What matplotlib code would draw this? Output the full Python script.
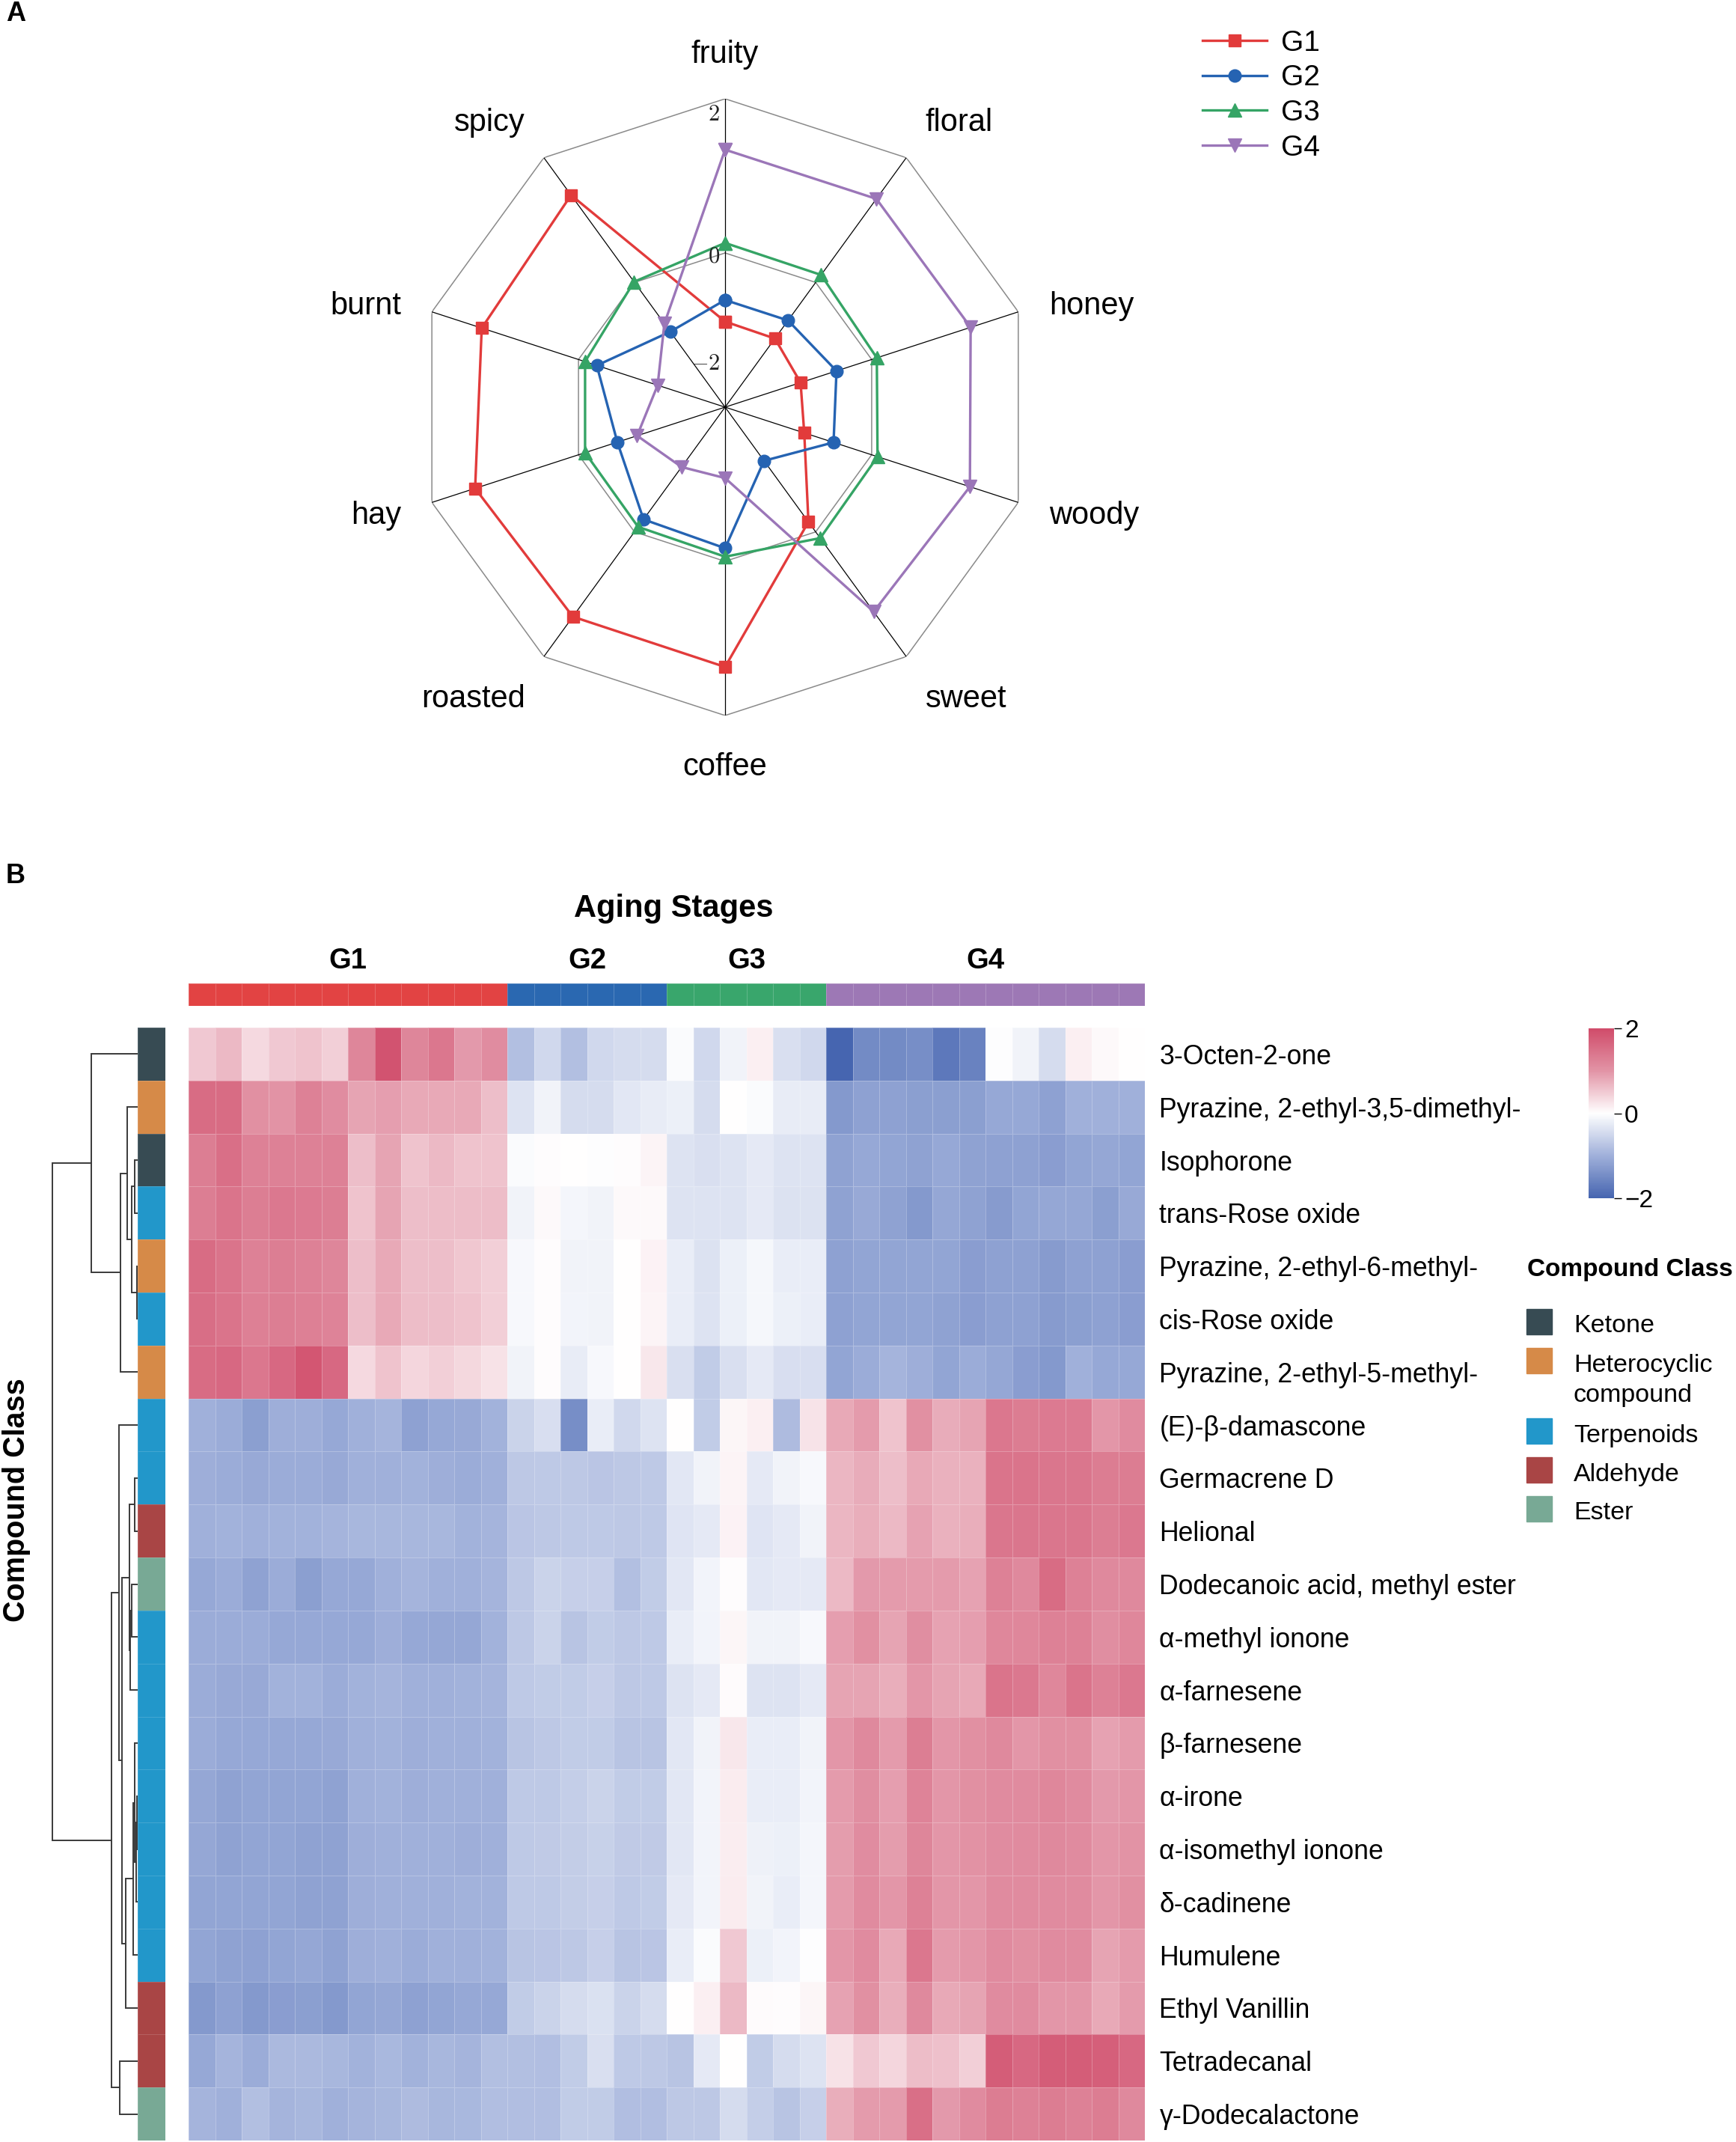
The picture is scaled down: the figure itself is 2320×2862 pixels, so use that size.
import numpy as np
import matplotlib
matplotlib.use("Agg")
import matplotlib.pyplot as plt
import matplotlib.transforms as mtransforms
from matplotlib.colors import LinearSegmentedColormap, ListedColormap
from matplotlib.patches import Rectangle

plt.rcParams["font.family"] = ["Liberation Sans", "DejaVu Sans"]
plt.rcParams["mathtext.fontset"] = "cm"

# ---------------- panel A : aroma radar ----------------
aromas = ["fruity", "floral", "honey", "woody", "sweet",
          "coffee", "roasted", "hay", "burnt", "spicy"]
radar_groups = ["G1", "G2", "G3", "G4"]
g1_scores = [-0.89, -0.90, -0.97, -0.92, -0.16, 1.37, 1.36, 1.41, 1.32, 1.40]
g2_scores = [-0.61, -0.61, -0.48, -0.52, -1.14, -0.17, -0.20, -0.53, -0.25, -0.79]
g3_scores = [0.13, 0.12, 0.07, 0.08, 0.10, -0.06, -0.08, -0.09, -0.09, 0.01]
g4_scores = [1.34, 1.34, 1.35, 1.34, 1.28, -1.08, -1.04, -0.80, -1.08, -0.66]
radar_colors = ["#E23B3B", "#2563B2", "#35A465", "#9B76B8"]
radar_markers = ["s", "o", "^", "v"]
radar_ticks = [2, 0, -2]

# ---------------- panel B : clustered heatmap ----------------
stages = ["G1", "G2", "G3", "G4"]
stage_ncols = [12, 6, 6, 12]
stage_colors = ["#E24343", "#2A68B1", "#39A66C", "#9D78B5"]

compounds = ["3-Octen-2-one", "Pyrazine, 2-ethyl-3,5-dimethyl-", "Isophorone",
             "trans-Rose oxide", "Pyrazine, 2-ethyl-6-methyl-", "cis-Rose oxide",
             "Pyrazine, 2-ethyl-5-methyl-", "(E)-β-damascone", "Germacrene D",
             "Helional", "Dodecanoic acid, methyl ester", "α-methyl ionone",
             "α-farnesene", "β-farnesene", "α-irone", "α-isomethyl ionone",
             "δ-cadinene", "Humulene", "Ethyl Vanillin", "Tetradecanal",
             "γ-Dodecalactone"]
compound_class = ["Ketone", "Heterocyclic", "Ketone", "Terpenoids", "Heterocyclic",
                  "Terpenoids", "Heterocyclic", "Terpenoids", "Terpenoids", "Aldehyde",
                  "Ester", "Terpenoids", "Terpenoids", "Terpenoids", "Terpenoids",
                  "Terpenoids", "Terpenoids", "Terpenoids", "Aldehyde", "Aldehyde",
                  "Ester"]
class_keys = ["Ketone", "Heterocyclic", "Terpenoids", "Aldehyde", "Ester"]
class_labels = ["Ketone", "Heterocyclic\ncompound", "Terpenoids", "Aldehyde", "Ester"]
class_colors = ["#374B53", "#D68A48", "#2297CA", "#A94545", "#78A995"]

heat_g1 = [
    [0.5, 0.65, 0.35, 0.5, 0.55, 0.45, 1.2, 1.9, 1.2, 1.4, 0.95, 1.1],
    [1.55, 1.55, 1.05, 1.0, 1.25, 1.1, 0.85, 0.9, 0.8, 0.8, 0.8, 0.6],
    [1.3, 1.5, 1.25, 1.25, 1.25, 1.25, 0.6, 0.85, 0.55, 0.65, 0.55, 0.55],
    [1.3, 1.45, 1.3, 1.38, 1.35, 1.3, 0.55, 0.85, 0.6, 0.62, 0.62, 0.62],
    [1.55, 1.45, 1.25, 1.3, 1.25, 1.2, 0.6, 0.8, 0.6, 0.6, 0.52, 0.45],
    [1.52, 1.45, 1.27, 1.3, 1.27, 1.22, 0.6, 0.8, 0.62, 0.6, 0.55, 0.45],
    [1.55, 1.6, 1.4, 1.6, 1.85, 1.6, 0.35, 0.55, 0.38, 0.45, 0.37, 0.28],
    [-1.0, -1.05, -1.22, -1.02, -1.02, -1.1, -1.0, -0.95, -1.2, -1.1, -1.08, -0.98],
    [-1.02, -1.05, -1.08, -1.05, -1.05, -1.08, -1.0, -1.0, -0.98, -1.02, -1.05, -1.0],
    [-1.0, -0.98, -1.0, -0.98, -0.98, -0.95, -0.92, -0.92, -0.92, -0.92, -0.98, -0.95],
    [-1.1, -1.05, -1.18, -1.05, -1.22, -1.1, -1.1, -1.0, -0.95, -1.0, -1.0, -0.95],
    [-1.05, -1.05, -1.05, -1.1, -1.1, -1.1, -1.1, -1.02, -1.1, -1.12, -1.12, -0.98],
    [-1.05, -1.08, -1.08, -0.98, -0.98, -1.05, -0.98, -0.95, -1.0, -1.0, -0.98, -0.95],
    [-1.05, -1.1, -1.1, -1.1, -1.1, -1.08, -1.0, -0.98, -1.02, -1.0, -1.0, -0.98],
    [-1.12, -1.18, -1.15, -1.15, -1.15, -1.18, -1.0, -0.98, -1.02, -1.0, -1.0, -1.0],
    [-1.12, -1.18, -1.15, -1.15, -1.18, -1.18, -1.02, -1.0, -1.0, -1.0, -1.02, -1.0],
    [-1.15, -1.15, -1.15, -1.15, -1.18, -1.18, -1.02, -1.0, -1.0, -1.0, -0.98, -0.98],
    [-1.15, -1.18, -1.2, -1.15, -1.12, -1.18, -1.02, -1.0, -1.05, -1.0, -1.0, -0.98],
    [-1.3, -1.2, -1.3, -1.25, -1.22, -1.3, -1.15, -1.12, -1.2, -1.15, -1.1, -1.1],
    [-1.1, -0.95, -1.05, -0.88, -0.88, -0.92, -0.98, -0.9, -0.98, -0.92, -0.94, -0.8],
    [-0.94, -1.0, -0.8, -0.95, -0.92, -1.0, -0.94, -0.92, -0.85, -0.92, -0.9, -0.82],
]
heat_g2 = [
    [-0.8, -0.5, -0.8, -0.5, -0.45, -0.45],
    [-0.35, -0.15, -0.45, -0.45, -0.3, -0.25],
    [-0.05, 0.03, 0.0, -0.03, 0.02, 0.1],
    [-0.15, 0.05, -0.12, -0.15, 0.05, 0.05],
    [-0.08, 0.03, -0.15, -0.15, 0.0, 0.12],
    [-0.08, 0.02, -0.13, -0.15, 0.0, 0.1],
    [-0.15, 0.02, -0.25, -0.08, 0.0, 0.22],
    [-0.55, -0.42, -1.45, -0.22, -0.5, -0.35],
    [-0.7, -0.68, -0.7, -0.72, -0.7, -0.68],
    [-0.72, -0.7, -0.68, -0.68, -0.7, -0.68],
    [-0.7, -0.55, -0.6, -0.6, -0.8, -0.65],
    [-0.7, -0.55, -0.75, -0.65, -0.7, -0.68],
    [-0.68, -0.65, -0.65, -0.6, -0.7, -0.68],
    [-0.75, -0.7, -0.65, -0.65, -0.75, -0.75],
    [-0.68, -0.68, -0.62, -0.55, -0.65, -0.65],
    [-0.68, -0.66, -0.64, -0.58, -0.66, -0.66],
    [-0.68, -0.68, -0.64, -0.6, -0.68, -0.65],
    [-0.75, -0.72, -0.7, -0.6, -0.75, -0.72],
    [-0.65, -0.55, -0.45, -0.38, -0.55, -0.45],
    [-0.8, -0.82, -0.65, -0.4, -0.68, -0.7],
    [-0.82, -0.82, -0.65, -0.65, -0.82, -0.82],
]
heat_g3 = [
    [-0.05, -0.5, -0.15, 0.15, -0.4, -0.5],
    [-0.2, -0.45, 0.0, -0.05, -0.25, -0.25],
    [-0.35, -0.4, -0.35, -0.28, -0.35, -0.35],
    [-0.35, -0.35, -0.35, -0.28, -0.37, -0.37],
    [-0.22, -0.37, -0.2, -0.1, -0.22, -0.22],
    [-0.22, -0.35, -0.2, -0.1, -0.2, -0.22],
    [-0.4, -0.65, -0.4, -0.28, -0.42, -0.42],
    [0.01, -0.65, 0.08, 0.15, -0.85, 0.25],
    [-0.3, -0.15, 0.1, -0.28, -0.15, -0.08],
    [-0.33, -0.28, 0.12, -0.33, -0.28, -0.15],
    [-0.3, -0.13, 0.02, -0.3, -0.28, -0.28],
    [-0.22, -0.13, 0.08, -0.15, -0.15, -0.08],
    [-0.35, -0.28, 0.04, -0.35, -0.35, -0.28],
    [-0.3, -0.15, 0.22, -0.22, -0.22, -0.15],
    [-0.3, -0.13, 0.18, -0.22, -0.22, -0.13],
    [-0.3, -0.13, 0.16, -0.18, -0.2, -0.12],
    [-0.28, -0.13, 0.18, -0.15, -0.22, -0.12],
    [-0.22, -0.05, 0.5, -0.2, -0.13, -0.03],
    [0.0, 0.15, 0.65, 0.04, 0.02, 0.08],
    [-0.75, -0.28, 0.0, -0.65, -0.45, -0.35],
    [-0.7, -0.7, -0.45, -0.62, -0.75, -0.6],
]
heat_g4 = [
    [-2.0, -1.5, -1.5, -1.45, -1.75, -1.6, -0.02, -0.15, -0.45, 0.15, 0.05, 0.0],
    [-1.3, -1.2, -1.2, -1.22, -1.22, -1.22, -1.1, -1.1, -1.2, -1.0, -1.0, -1.0],
    [-1.18, -1.1, -1.15, -1.18, -1.1, -1.18, -1.2, -1.2, -1.25, -1.15, -1.12, -1.15],
    [-1.18, -1.08, -1.18, -1.3, -1.12, -1.18, -1.28, -1.15, -1.12, -1.12, -1.22, -1.08],
    [-1.2, -1.15, -1.15, -1.15, -1.15, -1.25, -1.2, -1.2, -1.28, -1.2, -1.2, -1.25],
    [-1.2, -1.15, -1.15, -1.15, -1.18, -1.25, -1.2, -1.2, -1.28, -1.22, -1.2, -1.25],
    [-1.15, -1.05, -0.95, -1.02, -1.15, -1.05, -1.12, -1.25, -1.3, -1.0, -1.1, -1.1],
    [0.8, 0.93, 0.55, 1.05, 0.78, 0.85, 1.4, 1.32, 1.35, 1.35, 0.97, 1.12],
    [0.68, 0.78, 0.6, 0.8, 0.72, 0.72, 1.45, 1.45, 1.42, 1.42, 1.32, 1.32],
    [0.68, 0.75, 0.65, 0.87, 0.72, 0.75, 1.42, 1.42, 1.42, 1.42, 1.3, 1.38],
    [0.65, 0.95, 0.93, 0.93, 0.93, 0.87, 1.25, 1.15, 1.55, 1.25, 1.15, 1.15],
    [0.9, 1.05, 0.85, 1.08, 0.87, 0.9, 1.18, 1.18, 1.25, 1.25, 1.08, 1.18],
    [0.85, 0.85, 0.75, 0.98, 0.85, 0.8, 1.45, 1.38, 1.18, 1.45, 1.25, 1.38],
    [0.97, 1.15, 0.93, 1.3, 0.97, 1.05, 1.15, 0.97, 1.05, 1.05, 0.87, 0.93],
    [0.93, 1.08, 0.9, 1.22, 0.98, 1.05, 1.12, 1.12, 1.18, 1.12, 0.95, 0.98],
    [0.92, 1.1, 0.92, 1.2, 0.98, 1.02, 1.1, 1.12, 1.15, 1.12, 0.98, 1.0],
    [0.93, 1.12, 0.97, 1.25, 0.98, 0.98, 1.12, 1.12, 1.12, 1.12, 0.97, 1.05],
    [0.97, 1.12, 0.8, 1.4, 0.93, 0.97, 1.12, 1.05, 1.12, 1.12, 0.85, 0.93],
    [0.87, 1.05, 0.75, 1.15, 0.8, 0.85, 1.12, 1.12, 0.98, 0.98, 0.8, 0.93],
    [0.28, 0.5, 0.38, 0.62, 0.58, 0.45, 1.75, 1.6, 1.75, 1.75, 1.72, 1.6],
    [0.75, 0.93, 0.93, 1.5, 0.95, 1.12, 1.32, 1.25, 1.32, 1.25, 1.32, 1.15],
]

# row dendrogram: (left id, right id, height); ids >= 21 are earlier merges
row_merges = [
    (2, 3, 12), (4, 5, 4), (21, 22, 24), (1, 23, 42), (24, 6, 69), (0, 25, 187),
    (8, 9, 12), (10, 11, 25), (28, 12, 30), (27, 29, 32),
    (14, 15, 4), (31, 16, 7), (13, 32, 12), (33, 17, 17), (34, 18, 47),
    (30, 35, 64), (7, 36, 74), (19, 20, 72), (37, 38, 105), (26, 39, 342),
]

W, H = 2320, 2862
fig = plt.figure(figsize=(W / 100, H / 100), dpi=100)


def px_axes(x0, y0, x1, y1, **kw):
    return fig.add_axes([x0 / W, 1 - y1 / H, (x1 - x0) / W, (y1 - y0) / H], **kw)


def fx(x):
    return x / W


def fy(y):
    return 1 - y / H


# ---------- A: radar ----------
ax = px_axes(557, 132, 1381, 956, projection="polar")
ax.set_theta_offset(np.pi / 2)
ax.set_theta_direction(-1)
ax.set_ylim(-2, 2)
ax.grid(False)
ax.set_xticks([])
ax.set_yticks([])
ax.spines["polar"].set_visible(False)
ax.patch.set_alpha(0)

theta = np.linspace(0, 2 * np.pi, len(aromas), endpoint=False)
closed = np.append(theta, theta[0])
for rv in [0, 2]:
    ax.plot(closed, np.full(len(closed), rv), color="#8a8a8a", lw=1.1, zorder=1)
for t in theta:
    ax.plot([t, t], [-2, 2], color="black", lw=0.9, zorder=1)

all_scores = [g1_scores, g2_scores, g3_scores, g4_scores]
for name, vals, col, mk in zip(radar_groups, all_scores, radar_colors, radar_markers):
    v = np.append(vals, vals[0])
    ms = 13 if mk in "^v" else 12
    ax.plot(closed, v, color=col, lw=2.4, marker=mk, markersize=ms,
            label=name, zorder=3, clip_on=False)

# category labels: inner edge just outside the outer ring
lab_off = mtransforms.offset_copy(ax.transAxes, fig=fig, x=0, y=-5, units="dots")
for t, name in zip(theta, aromas):
    sx, cy = np.sin(t), np.cos(t)
    if abs(sx) < 0.01:
        xx, ha = 0.0, "center"
    else:
        xx, ha = 1.105 * sx, ("left" if sx > 0 else "right")
    yy = 1.155 * cy if abs(cy) > 0.5 else 1.1 * cy
    ax.text(0.5 + 0.5 * xx, 0.5 + 0.5 * yy, name, ha=ha, va="center",
            fontsize=30, transform=lab_off)

tick_off = mtransforms.offset_copy(ax.transData, fig=fig, x=-5, y=0, units="points")
for rv, frac in zip(radar_ticks, [0.95, 0.49, 0.14]):
    ax.text(0, -2 + 4 * frac, "$%d$" % rv, ha="right", va="center",
            fontsize=22, color="#222222", transform=tick_off)

h, l = ax.get_legend_handles_labels()
fig.legend(h, l, loc="upper left", bbox_to_anchor=(fx(1607), fy(40)), frameon=False,
           fontsize=28, handlelength=2.2, handletextpad=0.5, labelspacing=0.27,
           borderpad=0, borderaxespad=0)

fig.text(fx(8), fy(18), "A", fontsize=26, fontweight="bold", va="center", ha="left")
fig.text(fx(8), fy(1170), "B", fontsize=26, fontweight="bold", va="center", ha="left")

# ---------- B: heatmap ----------
cmap = LinearSegmentedColormap.from_list(
    "bluered", [(0, "#4665B0"), (0.25, "#A0B0DA"), (0.5, "#FFFFFF"),
                (0.75, "#E294A6"), (1, "#D04C6A")])
Z = np.hstack([np.array(heat_g1), np.array(heat_g2), np.array(heat_g3), np.array(heat_g4)])
nrow, ncol = Z.shape

hm = px_axes(252, 1373, 1530, 2860)
mesh = hm.pcolormesh(Z, cmap=cmap, vmin=-2, vmax=2,
                     edgecolors=(1, 1, 1, 0.25), linewidth=0.4)
hm.set_xlim(0, ncol)
hm.set_ylim(nrow, 0)
hm.set_xticks([])
hm.yaxis.tick_right()
hm.set_yticks(np.arange(nrow) + 0.5)
hm.set_yticklabels(compounds, fontsize=25.7)
hm.tick_params(axis="y", length=0, pad=14)
for s in hm.spines.values():
    s.set_visible(False)

# stage bar on top
gb = px_axes(252, 1314, 1530, 1344)
stage_idx = np.repeat(np.arange(len(stages)), stage_ncols)[None, :]
gb.pcolormesh(stage_idx, cmap=ListedColormap(stage_colors), vmin=-0.5, vmax=3.5,
              edgecolors=(1, 1, 1, 0.2), linewidth=0.4)
gb.set_xlim(0, ncol)
gb.axis("off")
edges = np.concatenate([[0], np.cumsum(stage_ncols)])
for i, st in enumerate(stages):
    gb.text((edges[i] + edges[i + 1]) / 2, 2.0, st, transform=gb.get_xaxis_transform(),
            ha="center", va="center", fontsize=27.5, fontweight="bold")
fig.text(fx(900), fy(1214), "Aging Stages", ha="center", va="center",
         fontsize=30, fontweight="bold")

# class strip
rs = px_axes(184, 1373, 221, 2860)
cls_idx = np.array([class_keys.index(c) for c in compound_class])[:, None]
rs.pcolormesh(cls_idx, cmap=ListedColormap(class_colors), vmin=-0.5, vmax=4.5,
              edgecolors=(1, 1, 1, 0.15), linewidth=0.4)
rs.set_ylim(nrow, 0)
rs.axis("off")

# dendrogram
dn = px_axes(60, 1373, 184, 2860)
node_y = {i: i + 0.5 for i in range(nrow)}
node_h = {i: 0.0 for i in range(nrow)}
for k, (a, b, hgt) in enumerate(row_merges):
    ya, yb = node_y[a], node_y[b]
    dn.plot([node_h[a], hgt, hgt, node_h[b]], [ya, ya, yb, yb],
            color="#3a3a3a", lw=1.4, solid_joinstyle="miter")
    node_y[nrow + k] = (ya + yb) / 2
    node_h[nrow + k] = hgt
dn.set_xlim(max(m[2] for m in row_merges) + 30, 0)
dn.set_ylim(nrow, 0)
dn.axis("off")

fig.text(fx(22), fy(2004), "Compound Class", rotation=90, ha="center", va="center",
         fontsize=28.5, fontweight="bold")

# colorbar
cax = px_axes(2123, 1374, 2157, 1601)
cb = fig.colorbar(mesh, cax=cax, ticks=[-2, 0, 2])
cb.outline.set_visible(False)
cax.tick_params(labelsize=24, length=7, width=1, pad=3)

# class legend
fig.text(fx(2041), fy(1697), "Compound Class", ha="left", va="center",
         fontsize=24, fontweight="bold")
y = 1766
for lab, col in zip(class_labels, class_colors):
    fig.add_artist(Rectangle((fx(2040), fy(y + 17)), 34 / W, 34 / H,
                             transform=fig.transFigure, color=col))
    lines = lab.split("\n")
    for j, line in enumerate(lines):
        fig.text(fx(2103), fy(y + 6 + 41 * j), line, ha="left", va="center", fontsize=24.5)
    y += 52 + 42 * (len(lines) - 1)

fig.savefig("out.png", dpi=100)
